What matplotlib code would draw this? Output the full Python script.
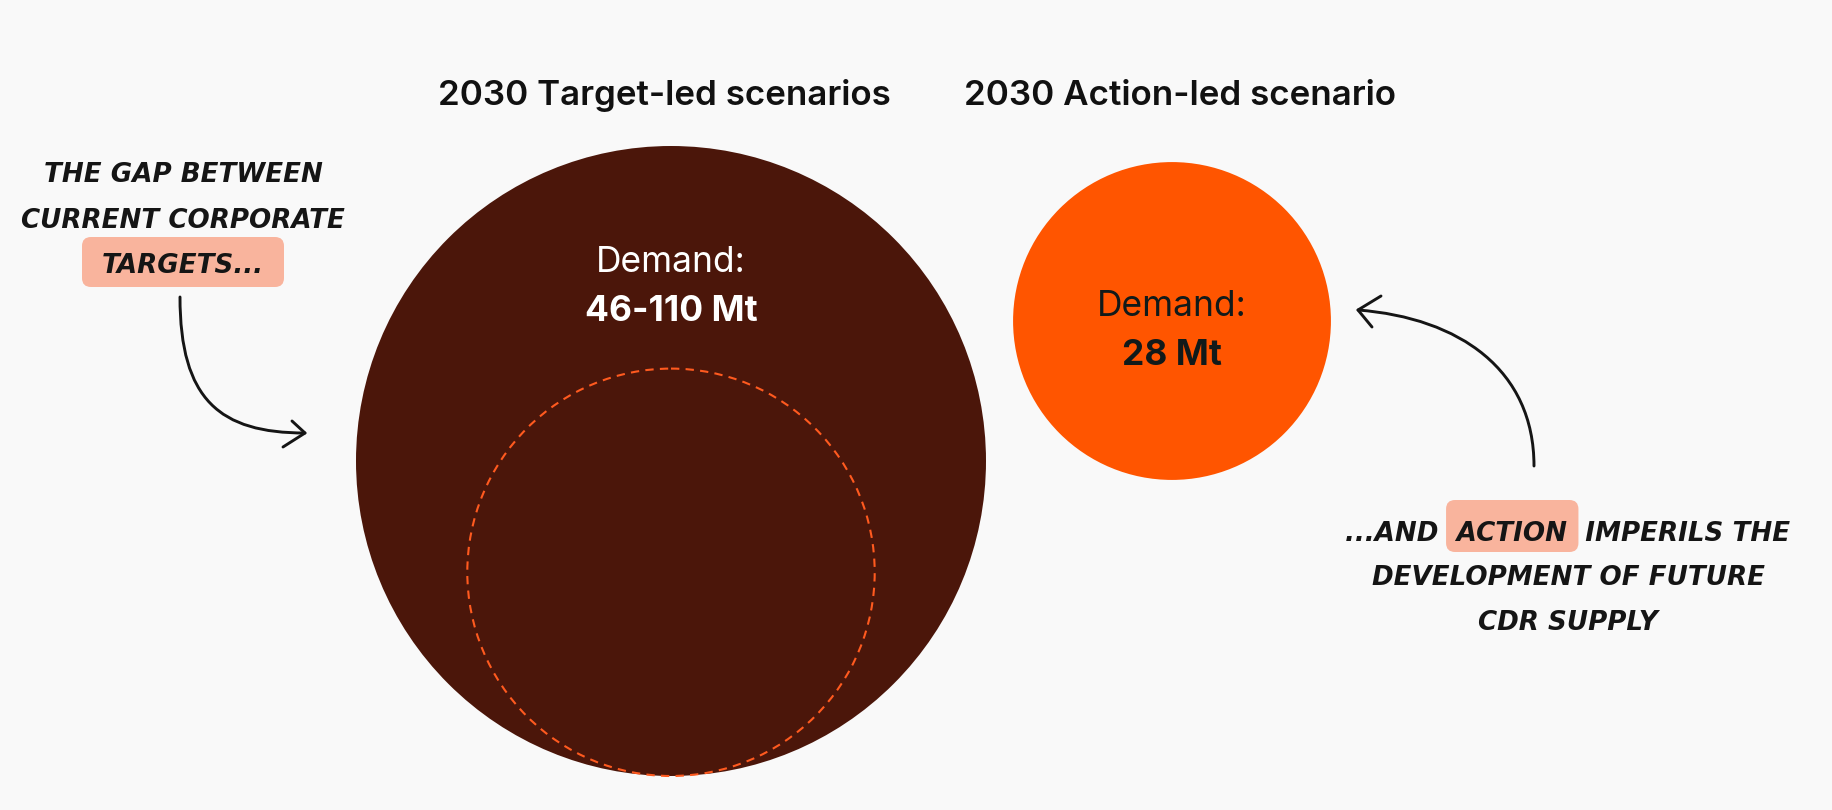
import matplotlib
matplotlib.use("Agg")
import matplotlib.pyplot as plt
from matplotlib.patches import Circle, FancyBboxPatch, Path, PathPatch
import numpy as np

# ---- data ----
scenario_titles = ["2030 Target-led scenarios", "2030 Action-led scenario"]
demand_high = [110, 28]          # Mt (outer circle)
demand_low = [46, None]          # Mt (dashed inner circle, target-led only)
demand_labels = ["46-110 Mt", "28 Mt"]
demand_caption = "Demand:"
left_note = ["THE GAP BETWEEN", "CURRENT CORPORATE", "TARGETS..."]
right_note = ["...AND ACTION IMPERILS THE", "DEVELOPMENT OF FUTURE", "CDR SUPPLY"]

# ---- style ----
BG = "#f9f9f9"
DARK = "#4b160a"
ORANGE = "#ff5500"
DASH = "#ff5a1f"
HILITE = "#f9b49d"
INK = "#151515"
W, H = 1832, 810

fig = plt.figure(figsize=(W / 100, H / 100), dpi=100, facecolor=BG)
ax = fig.add_axes([0, 0, 1, 1])
ax.set_xlim(0, W)
ax.set_ylim(H, 0)
ax.axis("off")
ax.set_facecolor(BG)

scale = 315 / np.sqrt(110)   # px per sqrt(Mt)
centers = [(671, 461), (1172, 321)]
fills = [DARK, ORANGE]
text_cols = ["white", "#111a1a"]

for i, v in enumerate(demand_high):
    r = scale * np.sqrt(v)
    cx, cy = centers[i]
    ax.add_patch(Circle((cx, cy), r, facecolor=fills[i], edgecolor="none", zorder=1))
    if demand_low[i] is not None:
        rl = scale * np.sqrt(demand_low[i])
        ax.add_patch(Circle((cx, cy + (r - rl)), rl, facecolor="none", edgecolor=DASH,
                            lw=1.5, linestyle=(0, (4, 3)), zorder=2))

title_font = dict(family=["Inter", "DejaVu Sans"], fontsize=25.2, weight="semibold", color="#111111")
ax.text(664, 105, scenario_titles[0], ha="center", va="baseline", **title_font)
ax.text(1180, 105, scenario_titles[1], ha="center", va="baseline", **title_font)

cap_y = [272, 316]
for i in range(2):
    cx = centers[i][0]
    ax.text(cx, cap_y[i], demand_caption, ha="center", va="baseline",
            family=["Inter", "DejaVu Sans"], fontsize=25.5, color=text_cols[i], zorder=3)
    ax.text(cx, cap_y[i] + 49, demand_labels[i], ha="center", va="baseline",
            family=["Inter", "DejaVu Sans"], fontsize=25.5, weight="bold", color=text_cols[i], zorder=3)

note_font = dict(family=["DejaVu Sans"], fontsize=18.8, weight="bold", style="oblique", color=INK)

fig.canvas.draw()
renderer = fig.canvas.get_renderer()

def text_width(s):
    t = ax.text(0, 0, s, **note_font)
    w = t.get_window_extent(renderer).width
    t.remove()
    return w

# left note
lx = 183
lbase = [182, 228, 273]
for s, y in zip(left_note, lbase):
    ax.text(lx, y, s, ha="center", va="baseline", zorder=3, **note_font)
wt = text_width(left_note[2])
ax.add_patch(FancyBboxPatch((lx - wt / 2 - 20 + 8, 237 + 8), wt + 40 - 16, 50 - 16,
                            boxstyle="round,pad=8,rounding_size=9",
                            facecolor=HILITE, edgecolor="none", zorder=2))

# right note: first line laid out so the highlight sits on "ACTION"
rx = 1568
rbase = [541, 585, 630]
words = right_note[0].split(" ")          # ['...AND', 'ACTION', 'IMPERILS', 'THE']
pre, act, post = words[0] + "  ", words[1], "  " + " ".join(words[2:])
full_w = text_width(pre + act + post)
left_edge = rx - full_w / 2
w_pre_act = text_width(pre + act)
w_act = text_width(act)
a0 = left_edge + w_pre_act - w_act
a1 = left_edge + w_pre_act
ax.text(left_edge, rbase[0], pre + act + post, ha="left", va="baseline", zorder=3, **note_font)
for s, y in zip(right_note[1:], rbase[1:]):
    ax.text(rx, y, s, ha="center", va="baseline", zorder=3, **note_font)
ax.add_patch(FancyBboxPatch((a0 - 11 + 8, 500 + 8), (a1 - a0) + 22 - 16, 52 - 16,
                            boxstyle="round,pad=8,rounding_size=9",
                            facecolor=HILITE, edgecolor="none", zorder=2))

# arrows (hand-drawn style curves)
def curve_arrow(p0, p1, p2, p3, head_a, head_b):
    verts = [p0, p1, p2, p3]
    codes = [Path.MOVETO, Path.CURVE4, Path.CURVE4, Path.CURVE4]
    ax.add_patch(PathPatch(Path(verts, codes), facecolor="none", edgecolor=INK,
                           lw=2.1, capstyle="round", zorder=3))
    ax.plot([head_a[0], p3[0], head_b[0]], [head_a[1], p3[1], head_b[1]],
            color=INK, lw=2.1, solid_capstyle="round", solid_joinstyle="round", zorder=3)

curve_arrow((180, 297), (180, 400), (220, 433), (305, 433), (292, 421), (283, 447))
curve_arrow((1534, 466), (1534, 370), (1460, 318), (1358, 310), (1381, 296), (1372, 327))

fig.savefig("out.png", dpi=100, facecolor=BG)
